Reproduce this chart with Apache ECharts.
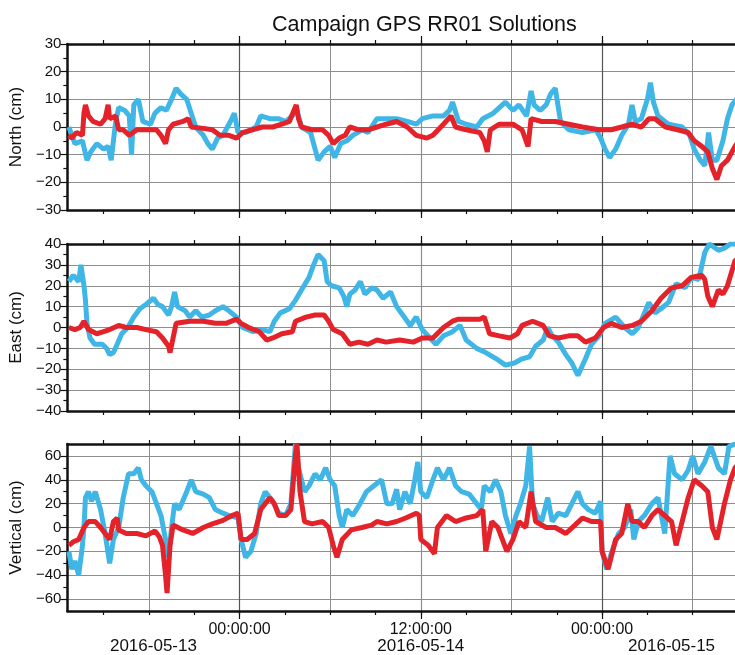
<!DOCTYPE html>
<html>
<head>
<meta charset="utf-8">
<title>Campaign GPS RR01 Solutions</title>
<script src="https://cdn.jsdelivr.net/npm/echarts@6/dist/echarts.min.js"></script>
<style>
  html, body { margin: 0; padding: 0; background: #fff; }
  #chart { width: 735px; height: 655px; }
</style>
</head>
<body>
<div id="chart"></div>
<script>
// time in hours from 2016-05-13 00:00:00
const xMin = -11.4, xMax = 32.8;
const gridHours = [-6, 0, 6, 12, 18, 24, 30];
const minorHours = [-9, -6, -3, 0, 3, 6, 9, 12, 15, 18, 21, 24, 27, 30];
const majorHours = [0, 12, 24];
const timeLabels = ['00:00:00', '12:00:00', '00:00:00'];
const dateHours = [-5.7, 12, 28.6];
const dateLabels = ['2016-05-13', '2016-05-14', '2016-05-15'];

const panelNames = ['North (cm)', 'East (cm)', 'Vertical (cm)'];
const yRanges = [[-30, 30], [-40, 40], [-70, 70]];
const yMajor = [
  [-30, -20, -10, 0, 10, 20, 30],
  [-40, -30, -20, -10, 0, 10, 20, 30, 40],
  [-60, -40, -20, 0, 20, 40, 60]
];
const yMinor = [
  [-25, -15, -5, 5, 15, 25],
  [-35, -25, -15, -5, 5, 15, 25, 35],
  [-50, -30, -10, 10, 30, 50]
];

// [hour, cm]
const northCyan = [[-11.3,0],[-10.9,-6],[-10.4,-5],[-10.1,-12],[-9.85,-9],[-9.45,-6],[-9.0,-8],[-8.7,-7],[-8.5,-12],[-8.2,2],[-8.0,7],[-7.6,6],[-7.3,4],[-7.15,-10],[-7.0,8],[-6.7,10],[-6.4,2],[-5.9,1],[-5.6,5],[-5.2,7],[-4.85,6],[-4.5,10],[-4.2,14],[-3.9,12],[-3.5,10],[-3.2,5],[-2.9,0],[-2.4,-3],[-2.1,-6],[-1.8,-8],[-1.45,-4],[-1.1,-3],[-0.6,2],[-0.35,5],[-0.1,-2],[0.4,-2],[1.1,0],[1.4,4],[2.0,3],[2.6,3],[3.05,2],[3.5,4],[3.75,7],[4.1,0],[4.7,-2],[5.0,-8],[5.2,-12],[5.6,-9],[6.0,-7],[6.3,-11],[6.7,-6],[7.1,-5],[7.5,-3],[8.1,-1],[8.5,-2],[9.1,3],[9.7,3],[10.4,3],[11.1,2],[11.7,1],[12.1,3],[12.8,4],[13.5,4],[13.9,6],[14.1,9],[14.5,2],[15.0,1],[15.7,0],[16.1,3],[16.8,5],[17.2,7],[17.6,9],[18.1,6],[18.5,8],[19.0,4],[19.3,13],[19.5,8],[19.9,6],[20.3,8],[20.6,12],[20.9,14],[21.25,2],[21.8,-1],[22.7,-2],[23.6,-1],[23.9,-4],[24.2,-8],[24.5,-11],[24.9,-8],[25.3,-3],[25.75,1],[25.98,8],[26.2,2],[26.6,3],[27.0,10],[27.2,16],[27.4,9],[27.7,4],[28.4,1],[29.3,0],[29.8,-3],[30.1,-8],[30.5,-12],[30.8,-14],[31.05,-2],[31.3,-12],[31.6,-12],[32.0,-5],[32.3,3],[32.6,8],[33.2,12]];
const northRed = [[-11.3,-3],[-11.1,-4],[-10.8,-2],[-10.4,-3],[-10.3,5],[-10.2,8],[-10.0,4],[-9.7,2],[-9.2,1],[-8.9,3],[-8.7,8],[-8.6,3],[-8.2,4],[-8.0,-1],[-7.7,-1],[-7.3,-3],[-6.8,-1],[-6.2,-1],[-5.5,-1],[-5.2,-3],[-4.9,-6],[-4.7,-1],[-4.4,1],[-3.75,2],[-3.4,3],[-3.2,0],[-2.4,-0.5],[-1.8,-1],[-1.3,-3],[-0.7,-3],[-0.2,-4],[0.2,-2],[0.85,-1],[1.5,0],[2.2,0],[2.8,1],[3.3,2],[3.6,6],[3.75,8],[3.9,3],[4.1,0],[4.8,-1],[5.5,-1],[5.9,-3],[6.2,-6],[6.6,-4],[7.0,-3],[7.3,0],[7.9,-1],[8.5,-1],[9.1,0],[9.7,1],[10.4,2],[11.1,0],[11.7,-3],[12.4,-4],[12.8,-3],[13.5,1],[14.0,4],[14.3,0],[15.0,-1],[15.9,-2],[16.2,-5],[16.4,-9],[16.6,-1],[17.2,1],[18.1,1],[18.7,-1],[19.1,-7],[19.3,3],[20.0,2],[20.9,2],[21.8,1],[22.7,0],[23.8,-1],[24.6,-1],[25.3,0],[25.98,1],[26.6,0],[27.1,3],[27.5,3],[28.2,0],[29.0,-1],[29.7,-2],[30.1,-5],[30.6,-7],[31.0,-9],[31.3,-15],[31.6,-19],[31.9,-14],[32.3,-12],[32.8,-7],[33.2,-4]];

const eastCyan = [[-11.3,22],[-11.0,25],[-10.65,22],[-10.5,30],[-10.3,20],[-10.2,13],[-10.1,2],[-9.9,-5],[-9.6,-8],[-9.1,-8],[-8.8,-10],[-8.6,-13],[-8.35,-12],[-8.1,-8],[-7.8,-3],[-7.4,0],[-7.0,5],[-6.6,9],[-6.2,11],[-5.7,14],[-5.4,11],[-5.1,10],[-4.7,6],[-4.5,10],[-4.3,17],[-4.1,10],[-3.6,8],[-3.3,5],[-2.9,8],[-2.5,5],[-2.0,6],[-1.6,8],[-1.1,10],[-0.7,8],[-0.2,5],[0.2,0],[0.9,-2],[1.5,-1],[2.0,-2],[2.3,3],[2.7,7],[3.3,9],[3.7,13],[4.1,18],[4.6,24],[4.9,30],[5.2,35],[5.6,32],[5.8,22],[6.1,20],[6.6,19],[6.9,15],[7.1,10],[7.3,16],[7.65,18],[8.0,22],[8.3,16],[8.75,19],[9.1,18],[9.5,14],[10.0,17],[10.4,10],[10.9,5],[11.3,1],[11.7,5],[12.1,-1],[12.6,-5],[13.0,-8],[13.5,-4],[14.1,-2],[14.6,1],[15.0,-6],[15.7,-10],[16.3,-12],[17.0,-15],[17.6,-18],[18.2,-17],[18.7,-15],[19.2,-14],[19.6,-9],[20.1,-6],[20.4,0],[20.7,-4],[21.1,-7],[21.6,-13],[22.0,-17],[22.4,-23],[22.9,-15],[23.3,-8],[23.8,-4],[24.2,2],[24.9,5],[25.5,0],[26.0,-3],[26.4,0],[27.1,12],[27.5,7],[27.9,9],[28.4,12],[28.9,21],[29.5,19],[29.9,24],[30.4,23],[30.8,36],[31.1,40],[31.7,37],[32.1,38],[32.5,40],[33.2,40]];
const eastRed = [[-11.3,0],[-10.9,-1],[-10.55,0],[-10.3,3],[-10.0,-1],[-9.45,-3],[-9.0,-2],[-8.6,-1],[-8.0,1],[-7.5,0],[-6.8,0],[-6.2,-1],[-5.5,-2],[-5.1,-5],[-4.7,-9],[-4.6,-12],[-4.4,-5],[-4.2,2],[-3.3,3],[-2.4,3],[-1.6,2],[-0.9,2],[-0.2,4],[0.1,2],[0.6,0],[1.3,-2],[1.8,-6],[2.2,-5],[2.8,-3],[3.5,-2],[3.7,3],[4.4,5],[5.0,6],[5.6,6],[5.9,3],[6.2,-1],[6.8,-3],[7.3,-8],[7.9,-7],[8.5,-8],[9.1,-6],[9.7,-7],[10.6,-6],[11.5,-7],[12.1,-5],[12.8,-5],[13.5,0],[14.1,3],[14.5,4],[15.0,4],[15.9,4],[16.2,5],[16.55,-3],[17.2,-4],[17.9,-5],[18.4,-3],[18.7,1],[19.4,3],[20.1,1],[20.5,-4],[21.1,-5],[21.8,-4],[22.4,-4],[22.9,-7],[23.55,-5],[24.1,0],[24.6,2],[25.3,0],[26.0,1],[26.6,3],[27.3,8],[27.9,14],[28.6,19],[29.3,20],[29.9,24],[30.6,25],[30.8,23],[31.0,15],[31.3,10],[31.7,18],[32.0,16],[32.3,20],[32.8,32],[33.2,34]];

const vertCyan = [[-11.3,-20],[-11.1,-35],[-10.9,-28],[-10.65,-40],[-10.4,-15],[-10.3,0],[-10.2,25],[-10.0,30],[-9.8,22],[-9.55,30],[-9.2,15],[-8.9,-5],[-8.6,-30],[-8.35,-10],[-8.0,0],[-7.7,25],[-7.35,45],[-7.0,45],[-6.7,50],[-6.5,40],[-6.2,35],[-5.8,30],[-5.5,20],[-5.2,10],[-4.9,-10],[-4.7,-25],[-4.5,0],[-4.3,20],[-4.0,15],[-3.5,30],[-3.2,40],[-2.9,30],[-2.4,28],[-2.0,25],[-1.6,15],[-1.1,12],[-0.7,10],[-0.1,8],[0.1,-10],[0.4,-25],[0.75,-20],[1.1,-5],[1.4,20],[1.7,30],[2.2,22],[2.6,12],[3.05,10],[3.4,20],[3.7,70],[3.9,50],[4.3,30],[4.6,35],[5.0,45],[5.35,40],[5.7,50],[6.0,40],[6.3,35],[6.6,10],[6.8,0],[7.1,15],[7.5,10],[7.98,20],[8.4,30],[8.9,35],[9.4,40],[9.75,20],[10.1,20],[10.4,32],[10.6,15],[10.95,30],[11.3,20],[11.6,40],[11.8,55],[12.0,30],[12.4,25],[12.8,40],[13.1,50],[13.5,40],[13.9,50],[14.3,35],[14.7,30],[15.2,28],[15.7,20],[16.0,15],[16.2,35],[16.6,30],[16.95,40],[17.3,30],[17.6,10],[17.96,-5],[18.3,10],[18.6,20],[18.95,35],[19.2,68],[19.4,20],[19.7,10],[20.0,5],[20.4,25],[20.7,5],[21.1,12],[21.6,10],[22.0,20],[22.4,30],[22.7,20],[23.1,15],[23.55,12],[23.9,22],[24.0,-20],[24.3,-35],[24.65,-20],[25.1,-5],[25.5,0],[25.9,15],[26.1,-10],[26.4,5],[26.8,10],[27.3,20],[27.7,25],[28.15,-5],[28.5,60],[28.8,45],[29.3,40],[29.7,48],[30.0,60],[30.35,45],[30.8,55],[31.2,68],[31.7,50],[32.1,45],[32.4,68],[32.8,70],[33.2,70]];
const vertRed = [[-11.3,-15],[-11.0,-12],[-10.65,-10],[-10.3,0],[-10.0,5],[-9.55,5],[-9.2,0],[-8.9,-5],[-8.6,-10],[-8.35,5],[-8.1,8],[-8.0,-2],[-7.5,-5],[-6.8,-5],[-6.2,-7],[-5.6,-3],[-5.3,-8],[-5.1,-15],[-4.9,-40],[-4.8,-55],[-4.6,-15],[-4.4,2],[-3.75,-2],[-3.1,-5],[-2.4,0],[-1.8,3],[-1.1,6],[-0.5,10],[-0.1,12],[0.1,-10],[0.5,-10],[1.0,-5],[1.4,15],[2.0,25],[2.3,20],[2.6,10],[3.05,10],[3.4,15],[3.7,60],[3.8,70],[4.0,30],[4.3,5],[4.8,3],[5.5,5],[5.9,0],[6.2,-15],[6.45,-25],[6.8,-10],[7.4,-2],[8.1,0],[8.75,2],[9.1,5],[9.75,3],[10.4,5],[11.0,8],[11.7,12],[11.9,10],[12.0,-10],[12.5,-15],[12.9,-22],[13.1,0],[13.7,10],[14.3,5],[15.0,8],[15.7,10],[16.1,15],[16.3,-20],[16.7,5],[17.1,0],[17.7,-20],[18.1,-10],[18.5,5],[18.95,0],[19.3,30],[19.6,5],[20.3,0],[20.9,0],[21.6,-5],[22.2,2],[22.7,8],[23.3,5],[23.9,5],[24.0,-20],[24.4,-35],[24.9,-10],[25.3,-5],[25.7,20],[25.98,5],[26.4,5],[26.8,0],[27.3,10],[27.7,15],[28.15,10],[28.6,5],[28.9,-15],[29.3,5],[29.7,25],[30.1,40],[30.6,35],[31.0,30],[31.3,0],[31.6,-10],[32.1,20],[32.5,40],[32.8,50],[33.2,55]];

const panelData = [[northCyan, northRed], [eastCyan, eastRed], [vertCyan, vertRed]];

const cyan = '#3fb6e6';
const red = '#e4222a';
const font = 'Liberation Sans, Arial, Helvetica, sans-serif';
const tops = [44, 244, 444];
const heights = [166, 167, 168];
const frame = {show: true, onZero: false, lineStyle: {color: '#111', width: 2.5}};

const grid = [], xAxis = [], yAxis = [], series = [];

function minus(v) {
  return v < 0 ? '\u2212' + Math.abs(v) : String(v);
}

function tickAxis(i, pos, values, len) {
  return {
    gridIndex: i, type: 'value', min: xMin, max: xMax, position: pos,
    axisLine: {show: false, onZero: false},
    axisLabel: {show: false},
    axisTick: {show: true, customValues: values, length: len, lineStyle: {color: '#111', width: 1.2}},
    splitLine: {show: false}
  };
}

panelNames.forEach(function (name, i) {
  grid.push({left: 64, top: tops[i], width: 671, height: heights[i]});

  const xi = xAxis.length;
  // gridlines every 6 h
  xAxis.push({
    gridIndex: i, type: 'value', min: xMin, max: xMax, position: 'bottom',
    axisLine: {show: false, onZero: false}, axisLabel: {show: false},
    axisTick: {show: false, customValues: gridHours},
    splitLine: {show: true, lineStyle: {color: '#8e8e8e', width: 1}}
  });
  xAxis.push(tickAxis(i, 'bottom', minorHours, 4));
  const major = tickAxis(i, 'bottom', majorHours, 8);
  major.axisLine = frame;
  major.splitLine = {show: true, lineStyle: {color: ['#555', '#8e8e8e', '#555'], width: 1.2}};
  if (i === 2) {
    major.axisLabel = {
      show: true, customValues: majorHours, margin: 11,
      fontSize: 16, color: '#111', fontFamily: font,
      formatter: function (v) { return timeLabels[majorHours.indexOf(v)]; }
    };
  }
  xAxis.push(major);
  xAxis.push(tickAxis(i, 'top', minorHours, 4));
  const topMajor = tickAxis(i, 'top', majorHours, 8);
  topMajor.axisLine = frame;
  xAxis.push(topMajor);
  if (i === 2) {
    xAxis.push({
      gridIndex: i, type: 'value', min: xMin, max: xMax, position: 'bottom',
      axisLine: {show: false, onZero: false}, axisTick: {show: false}, splitLine: {show: false},
      axisLabel: {
        show: true, customValues: dateHours, margin: 27,
        fontSize: 17, color: '#111', fontFamily: font,
        formatter: function (v) { return dateLabels[dateHours.indexOf(v)]; }
      }
    });
  }

  const yi = yAxis.length;
  yAxis.push({
    gridIndex: i, type: 'value', min: yRanges[i][0], max: yRanges[i][1], position: 'left',
    name: name, nameLocation: 'middle', nameGap: 34,
    nameTextStyle: {fontSize: 17, color: '#111', fontFamily: font},
    axisLine: frame,
    axisTick: {show: true, customValues: yMajor[i], length: 7, lineStyle: {color: '#111', width: 1.2}},
    axisLabel: {
      customValues: yMajor[i], margin: 6, fontSize: 15, color: '#111', fontFamily: font,
      formatter: minus
    },
    splitLine: {show: true, lineStyle: {color: '#8e8e8e', width: 1}}
  });
  yAxis.push({
    gridIndex: i, type: 'value', min: yRanges[i][0], max: yRanges[i][1], position: 'left',
    axisLine: {show: false, onZero: false}, axisLabel: {show: false}, splitLine: {show: false},
    axisTick: {show: true, customValues: yMinor[i], length: 4, lineStyle: {color: '#111', width: 1.2}}
  });

  series.push({
    type: 'line', xAxisIndex: xi, yAxisIndex: yi, data: panelData[i][0],
    showSymbol: false, lineStyle: {color: cyan, width: 5}, z: 3
  });
  series.push({
    type: 'line', xAxisIndex: xi, yAxisIndex: yi, data: panelData[i][1],
    showSymbol: false, lineStyle: {color: red, width: 5}, z: 4
  });
});

const chart = echarts.init(document.getElementById('chart'), null, {renderer: 'canvas'});
chart.setOption({
  animation: false,
  backgroundColor: '#fff',
  title: {
    text: 'Campaign GPS RR01 Solutions', left: 267, top: 9,
    textStyle: {fontSize: 21.5, fontWeight: 'normal', color: '#111', fontFamily: font}
  },
  grid: grid,
  xAxis: xAxis,
  yAxis: yAxis,
  series: series
});
</script>
</body>
</html>
